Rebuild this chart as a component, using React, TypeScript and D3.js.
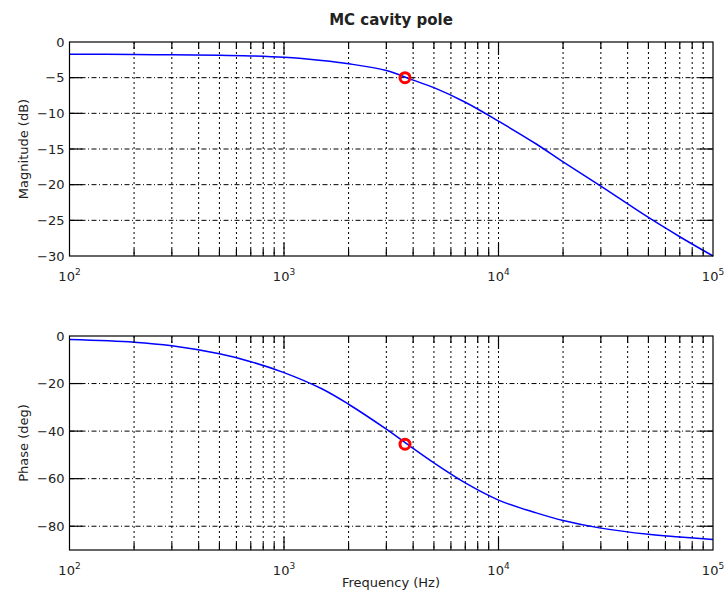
import { useEffect, useRef } from 'react';
import * as d3 from 'd3';

// values
const freqHz = [100, 200, 300, 500, 700, 1000, 1500, 2000, 3000, 4000, 5000, 7000, 10000, 15000, 20000, 30000, 50000, 70000, 100000];
const magnitudeDb = [-1.7, -1.75, -1.8, -1.85, -1.95, -2.15, -2.6, -3.05, -4.0, -5.35, -6.4, -8.45, -11.1, -14.3, -16.8, -20.2, -24.6, -27.3, -30.0];
const phaseDeg = [-1.5, -2.6, -4.1, -7.5, -10.8, -15.4, -22.2, -28.7, -39.2, -47.3, -53.4, -61.8, -69.0, -74.4, -77.6, -80.8, -83.4, -84.5, -85.6];

const poleFreqHz = [3665];
const poleMagDb = [-5.0];
const polePhaseDeg = [-45.5];

const magTicks = [0, -5, -10, -15, -20, -25, -30];
const phaseTicks = [0, -20, -40, -60, -80];
const decadeTicks = [100, 1000, 10000, 100000];

const FONT = '"DejaVu Sans", Verdana, sans-serif';

const App = () => {
    const svgRef = useRef<SVGSVGElement>(null);

    useEffect(() => {
        const root = d3.select(svgRef.current);
        root.selectAll('*').remove();

        const width = 726;
        const height = 599;
        root.attr('width', width).attr('height', height);

        root.append('rect')
            .attr('width', width)
            .attr('height', height)
            .attr('fill', '#fff');

        // ==========================================
        // SHARED X SCALE
        // ==========================================
        const x = d3.scaleLog().domain([100, 100000]).range([69.5, 713]);

        const minorTicks: number[] = [];
        [100, 1000, 10000].forEach((d) => {
            for (let k = 2; k <= 9; k++) minorTicks.push(d * k);
        });
        const innerMajor = decadeTicks.slice(1, -1);

        const drawPanel = (opts: {
            top: number;
            bottom: number;
            domain: [number, number];
            ticks: number[];
            values: number[];
            markerY: number[];
            label: string;
        }) => {
            const y = d3.scaleLinear().domain(opts.domain).range([opts.bottom, opts.top]);
            const g = root.append('g');
            const [x0, x1] = x.range();

            // grid
            const gridV = [...minorTicks, ...innerMajor];
            g.selectAll('line.vgrid')
                .data(gridV)
                .enter()
                .append('line')
                .attr('x1', (d) => x(d))
                .attr('x2', (d) => x(d))
                .attr('y1', opts.top)
                .attr('y2', opts.bottom)
                .attr('stroke', '#000')
                .attr('stroke-width', 1)
                .attr('stroke-dasharray', '2,3');

            const gridH = opts.ticks.filter((t) => t > opts.domain[0] && t < opts.domain[1]);
            g.selectAll('line.hgrid')
                .data(gridH)
                .enter()
                .append('line')
                .attr('x1', x0)
                .attr('x2', x1)
                .attr('y1', (d) => y(d))
                .attr('y2', (d) => y(d))
                .attr('stroke', '#000')
                .attr('stroke-width', 1)
                .attr('stroke-dasharray', '5,2.5,1,2.5');

            // curve
            const line = d3
                .line<number>()
                .x((_, i) => x(freqHz[i]))
                .y((d) => y(d))
                .curve(d3.curveCatmullRom.alpha(0.5));

            g.append('path')
                .datum(opts.values)
                .attr('d', line)
                .attr('fill', 'none')
                .attr('stroke', '#0000ff')
                .attr('stroke-width', 1.5);

            // pole marker
            g.selectAll('circle')
                .data(opts.markerY)
                .enter()
                .append('circle')
                .attr('cx', (_, i) => x(poleFreqHz[i]))
                .attr('cy', (d) => y(d))
                .attr('r', 5)
                .attr('fill', 'none')
                .attr('stroke', '#ff0000')
                .attr('stroke-width', 3);

            // box
            g.append('rect')
                .attr('x', x0)
                .attr('y', opts.top)
                .attr('width', x1 - x0)
                .attr('height', opts.bottom - opts.top)
                .attr('fill', 'none')
                .attr('stroke', '#000')
                .attr('stroke-width', 1.2);

            // x ticks, top and bottom
            const xTickData = [
                ...minorTicks.map((v) => ({ v, len: 7 })),
                ...innerMajor.map((v) => ({ v, len: 13 })),
            ];
            xTickData.forEach((t) => {
                g.append('line')
                    .attr('x1', x(t.v)).attr('x2', x(t.v))
                    .attr('y1', opts.bottom).attr('y2', opts.bottom - t.len)
                    .attr('stroke', '#000').attr('stroke-width', 1.2);
                g.append('line')
                    .attr('x1', x(t.v)).attr('x2', x(t.v))
                    .attr('y1', opts.top).attr('y2', opts.top + t.len)
                    .attr('stroke', '#000').attr('stroke-width', 1.2);
            });

            // y ticks, left and right
            gridH.forEach((t) => {
                g.append('line')
                    .attr('x1', x0).attr('x2', x0 + 13)
                    .attr('y1', y(t)).attr('y2', y(t))
                    .attr('stroke', '#000').attr('stroke-width', 1.2);
                g.append('line')
                    .attr('x1', x1).attr('x2', x1 - 13)
                    .attr('y1', y(t)).attr('y2', y(t))
                    .attr('stroke', '#000').attr('stroke-width', 1.2);
            });

            // y tick labels
            g.selectAll('text.ylab')
                .data(opts.ticks)
                .enter()
                .append('text')
                .attr('x', x0 - 5)
                .attr('y', (d) => y(d))
                .attr('dy', '0.36em')
                .attr('text-anchor', 'end')
                .style('font-family', FONT)
                .style('font-size', '13px')
                .style('fill', '#222')
                .text((d) => (d < 0 ? '\u2212' + Math.abs(d) : String(d)));

            // x tick labels 10^n
            decadeTicks.forEach((d) => {
                const t = g.append('text')
                    .attr('x', x(d))
                    .attr('y', opts.bottom + 25)
                    .attr('text-anchor', 'middle')
                    .style('font-family', FONT)
                    .style('font-size', '13px')
                    .style('fill', '#222');
                t.append('tspan').text('10');
                t.append('tspan')
                    .attr('dy', -6)
                    .style('font-size', '9px')
                    .text(String(Math.round(Math.log10(d))));
            });

            // y axis title
            g.append('text')
                .attr('transform', `translate(23, ${(opts.top + opts.bottom) / 2}) rotate(-90)`)
                .attr('text-anchor', 'middle')
                .attr('dy', '0.35em')
                .style('font-family', FONT)
                .style('font-size', '13px')
                .style('fill', '#222')
                .text(opts.label);
        };

        drawPanel({
            top: 42,
            bottom: 256,
            domain: [-30, 0],
            ticks: magTicks,
            values: magnitudeDb,
            markerY: poleMagDb,
            label: 'Magnitude (dB)',
        });

        drawPanel({
            top: 336,
            bottom: 550,
            domain: [-90, 0],
            ticks: phaseTicks,
            values: phaseDeg,
            markerY: polePhaseDeg,
            label: 'Phase (deg)',
        });

        // title and x label
        root.append('text')
            .attr('x', 391)
            .attr('y', 25)
            .attr('text-anchor', 'middle')
            .style('font-family', FONT)
            .style('font-size', '15px')
            .style('font-weight', 'bold')
            .style('fill', '#222')
            .text('MC cavity pole');

        root.append('text')
            .attr('x', 391)
            .attr('y', 587)
            .attr('text-anchor', 'middle')
            .style('font-family', FONT)
            .style('font-size', '13px')
            .style('fill', '#222')
            .text('Frequency (Hz)');
    }, []);

    return (
        <svg
            ref={svgRef}
            style={{ position: 'absolute', left: 0, top: 0, display: 'block' }}
        ></svg>
    );
};

export default App;
